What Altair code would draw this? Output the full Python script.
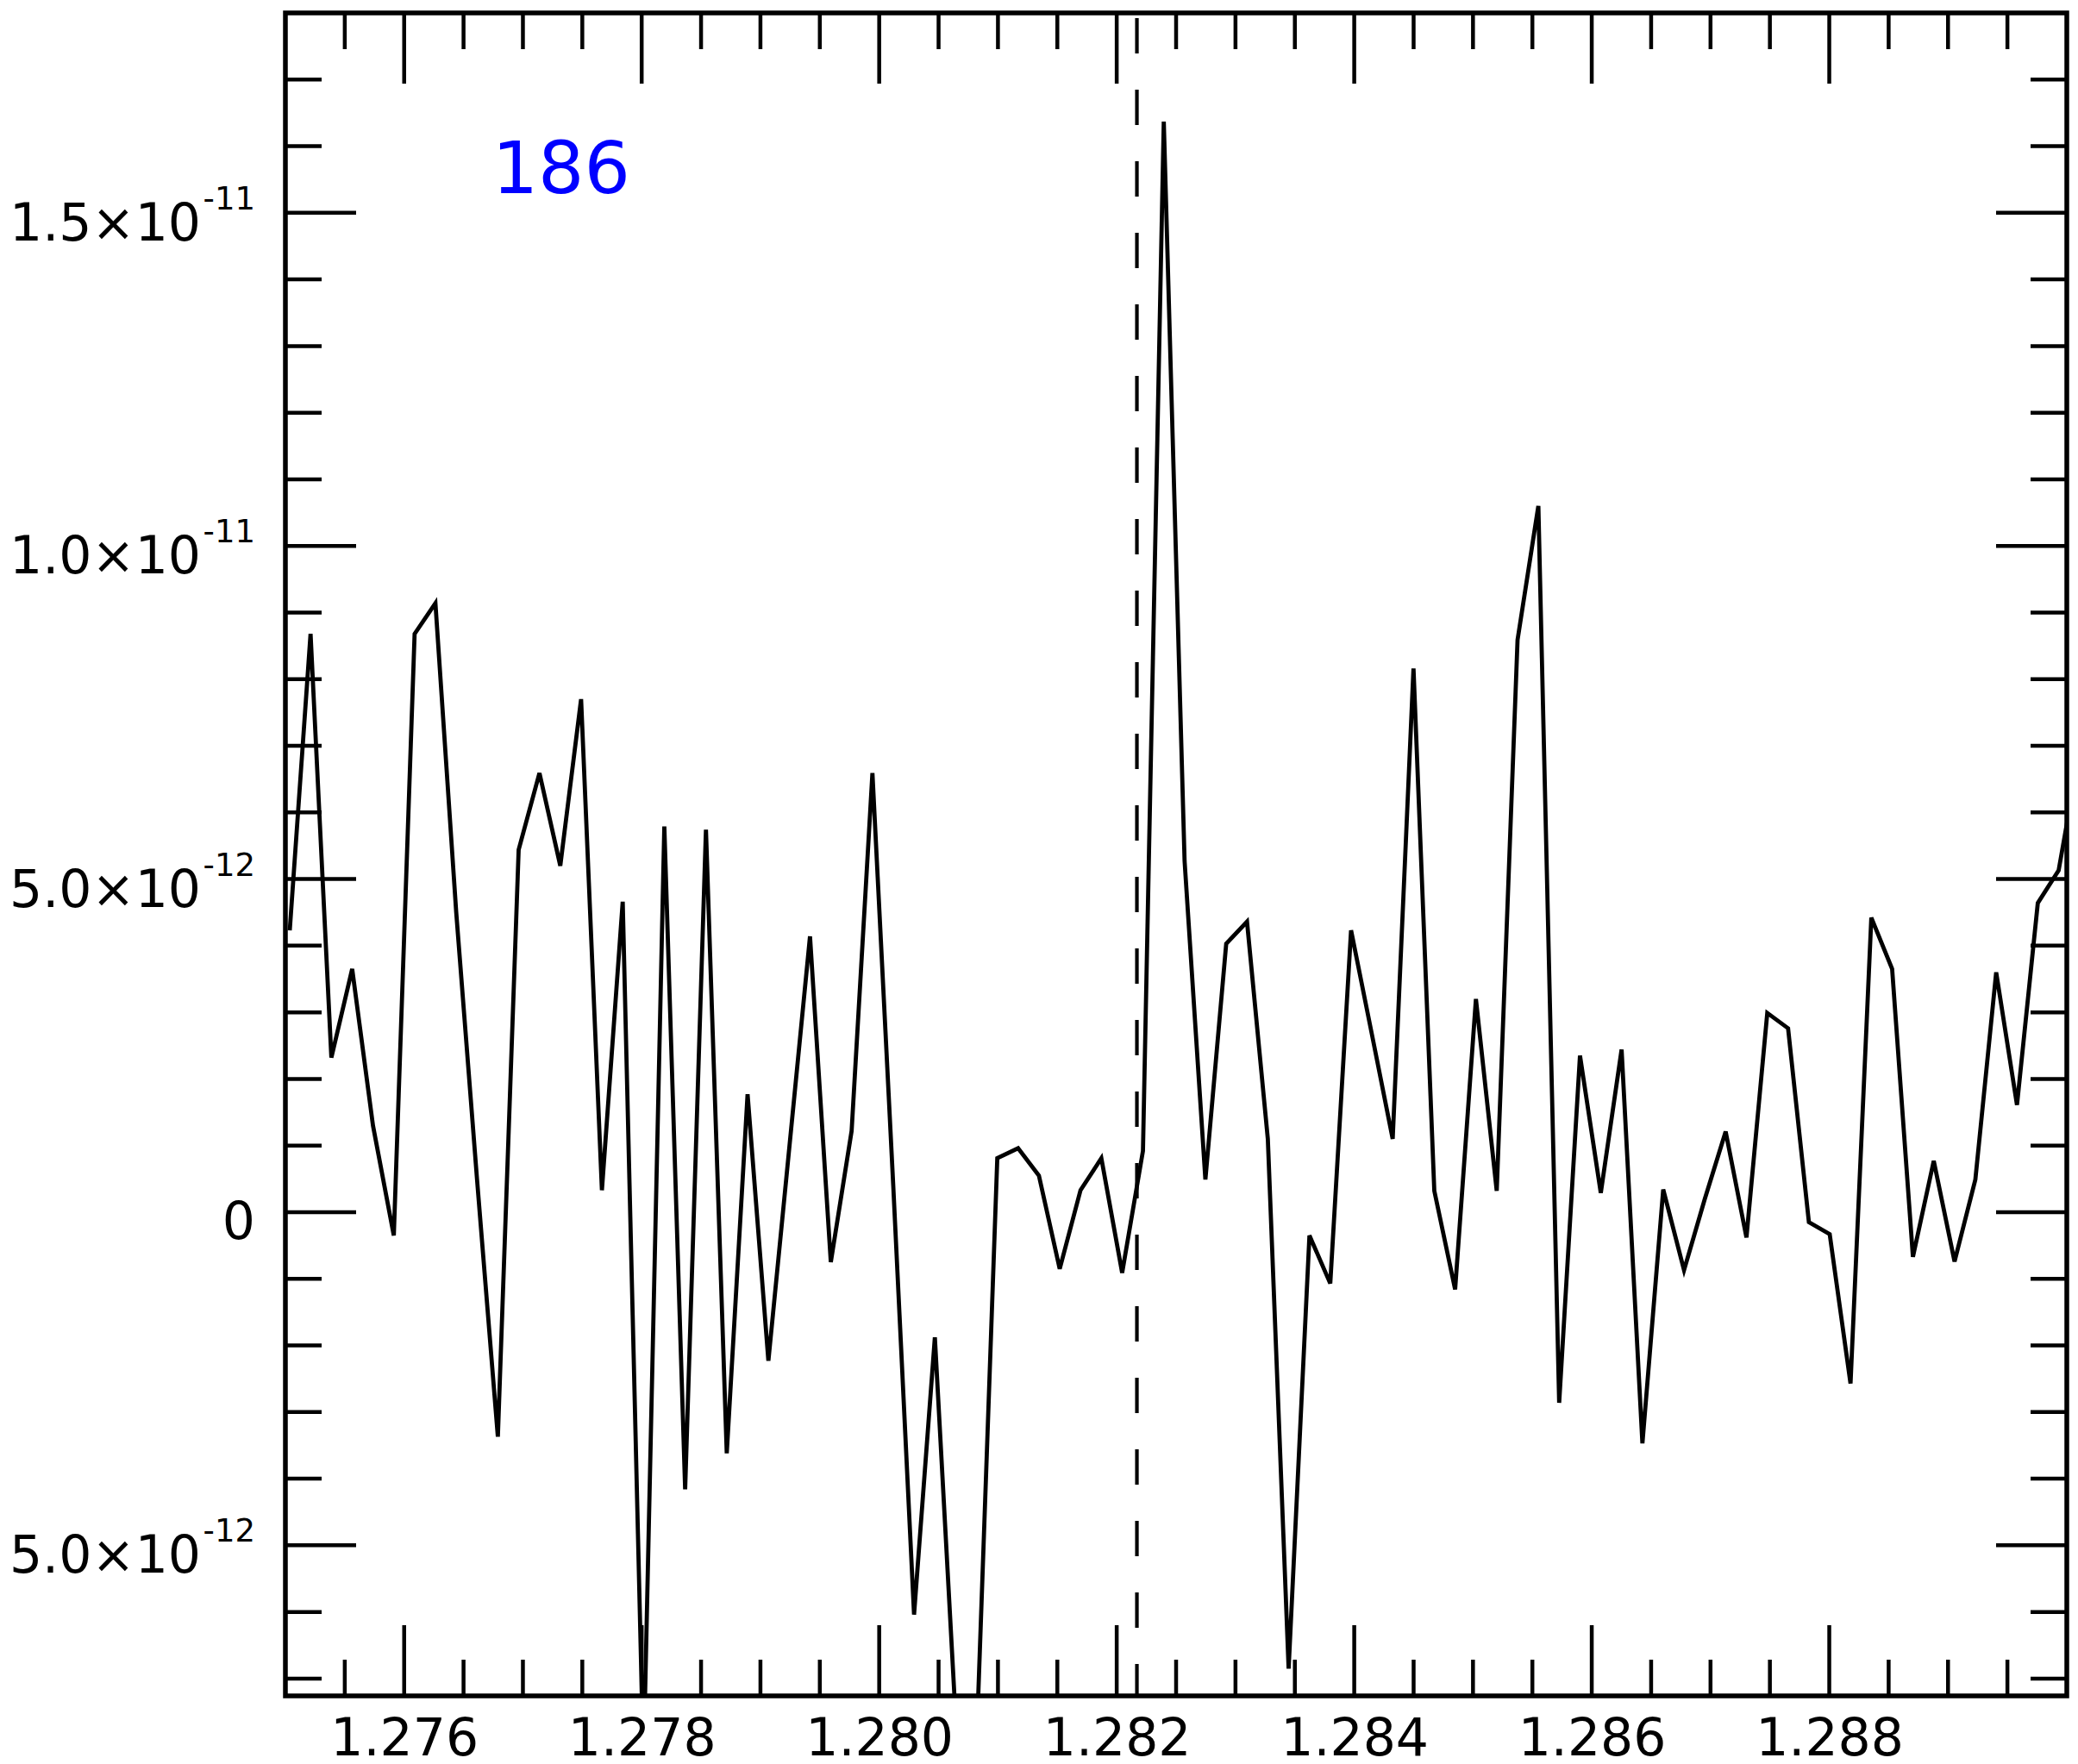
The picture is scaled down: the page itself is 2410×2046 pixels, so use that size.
import altair as alt
import pandas as pd

# ---- data ----
wave = [1.2750366, 1.2752118, 1.2753871, 1.2755623, 1.2757375, 1.2759128, 1.2760880, 1.2762632,
        1.2764384, 1.2766137, 1.2767889, 1.2769641, 1.2771394, 1.2773146, 1.2774898, 1.2776651,
        1.2778403, 1.2780155, 1.2781907, 1.2783660, 1.2785412, 1.2787164, 1.2788917, 1.2790669,
        1.2792421, 1.2794174, 1.2795926, 1.2797678, 1.2799430, 1.2801183, 1.2802935, 1.2804687,
        1.2806440, 1.2808192, 1.2809944, 1.2811697, 1.2813449, 1.2815201, 1.2816953, 1.2818706,
        1.2820458, 1.2822210, 1.2823963, 1.2825715, 1.2827467, 1.2829220, 1.2830972, 1.2832724,
        1.2834476, 1.2836229, 1.2837981, 1.2839733, 1.2841486, 1.2843238, 1.2844990, 1.2846743,
        1.2848495, 1.2850247, 1.2851999, 1.2853752, 1.2855504, 1.2857256, 1.2859009, 1.2860761,
        1.2862513, 1.2864266, 1.2866018, 1.2867770, 1.2869522, 1.2871275, 1.2873027, 1.2874779,
        1.2876532, 1.2878284, 1.2880036, 1.2881789, 1.2883541, 1.2885293, 1.2887045, 1.2888798,
        1.2890550, 1.2892302, 1.2894055, 1.2895807, 1.2897559, 1.2899312, 1.2901064]

flux = [4.23e-12, 8.68e-12, 2.32e-12, 3.65e-12, 1.30e-12, -0.35e-12, 8.68e-12, 9.14e-12, 4.50e-12, 0.49e-12,
        -3.37e-12, 5.44e-12, 6.59e-12, 5.20e-12, 7.70e-12, 0.33e-12, 4.66e-12, -8.30e-12, 5.79e-12, -4.16e-12,
        5.74e-12, -3.62e-12, 1.77e-12, -2.23e-12, 0.95e-12, 4.14e-12, -0.75e-12, 1.22e-12, 6.59e-12, 0.40e-12,
        -6.04e-12, -1.88e-12, -7.60e-12, -8.00e-12, 0.81e-12, 0.96e-12, 0.55e-12, -0.85e-12, 0.33e-12, 0.81e-12,
        -0.91e-12, 0.92e-12, 16.37e-12, 5.27e-12, 0.49e-12, 4.03e-12, 4.36e-12, 1.10e-12, -6.85e-12, -0.35e-12,
        -1.07e-12, 4.23e-12, 2.67e-12, 1.10e-12, 8.16e-12, 0.32e-12, -1.16e-12, 3.20e-12, 0.32e-12, 8.59e-12,
        10.60e-12, -2.86e-12, 2.35e-12, 0.29e-12, 2.44e-12, -3.47e-12, 0.34e-12, -0.87e-12, 0.20e-12, 1.21e-12,
        -0.38e-12, 2.99e-12, 2.76e-12, -0.15e-12, -0.33e-12, -2.57e-12, 4.42e-12, 3.65e-12, -0.67e-12, 0.77e-12,
        -0.74e-12, 0.49e-12, 3.60e-12, 1.61e-12, 4.64e-12, 5.13e-12, 6.90e-12]

line_center = [1.28217]

label_text = ["186"]
label_x = [1.27674]
label_y = [15.3e-12]

x_major = [1.276, 1.278, 1.280, 1.282, 1.284, 1.286, 1.288]
x_minor = [1.2755, 1.2765, 1.2770, 1.2775, 1.2785, 1.2790, 1.2795, 1.2805, 1.2810, 1.2815,
           1.2825, 1.2830, 1.2835, 1.2845, 1.2850, 1.2855, 1.2865, 1.2870, 1.2875, 1.2885,
           1.2890, 1.2895]
y_major = [-5e-12, 0.0, 5e-12, 1e-11, 1.5e-11]
y_mant = ["-5.0×10", "0", "5.0×10", "1.0×10", "1.5×10"]
y_exp = ["-12", "", "-12", "-11", "-11"]
y_minor = [-7e-12, -6e-12, -4e-12, -3e-12, -2e-12, -1e-12, 1e-12, 2e-12, 3e-12, 4e-12,
           6e-12, 7e-12, 8e-12, 9e-12, 1.1e-11, 1.2e-11, 1.3e-11, 1.4e-11, 1.6e-11, 1.7e-11]

# ---- layout / style ----
W, H = 2066, 1952
MAJ, MIN = 82, 42
FONT = "DejaVu Sans"
TW = 4.5

xs = alt.Scale(domain=[1.275, 1.290], nice=False, zero=False)
ys = alt.Scale(domain=[-7.26e-12, 1.8e-11], nice=False, zero=False)

df = pd.DataFrame({"wave": wave, "flux": flux})

xaxis = alt.Axis(values=x_major, format=".3f", ticks=False, domain=False, grid=False,
                 labelFontSize=60, labelFont=FONT, labelColor="black", labelPadding=21,
                 title=None, labelFlush=False, labelOverlap=False, orient="bottom")


def X(field):
    return alt.X(field, scale=xs, axis=xaxis)


def Y(field):
    return alt.Y(field, scale=ys, axis=None)


line = alt.Chart(df).mark_line(color="black", strokeWidth=4.8, clip=True).encode(
    x=X("wave:Q"), y=Y("flux:Q"),
)

dash = alt.Chart(pd.DataFrame({"wave": line_center})).mark_rule(
    color="black", strokeWidth=4.2, strokeDash=[41, 42], strokeDashOffset=77
).encode(x=X("wave:Q"))


def xticks(vals, length, top):
    d = pd.DataFrame({"t": vals})
    if top:
        yy, yy2 = alt.value(0), alt.value(length)
    else:
        yy, yy2 = alt.value(H - length), alt.value(H)
    return alt.Chart(d).mark_rule(color="black", strokeWidth=TW).encode(
        x=X("t:Q"), y=yy, y2=yy2)


def yticks(vals, length, left):
    d = pd.DataFrame({"t": vals})
    if left:
        xx, xx2 = alt.value(0), alt.value(length)
    else:
        xx, xx2 = alt.value(W - length), alt.value(W)
    return alt.Chart(d).mark_rule(color="black", strokeWidth=TW).encode(
        y=Y("t:Q"), x=xx, x2=xx2)


ticks = [
    xticks(x_major, MAJ, True), xticks(x_major, MAJ, False),
    xticks(x_minor, MIN, True), xticks(x_minor, MIN, False),
    yticks(y_major, MAJ, True), yticks(y_major, MAJ, False),
    yticks(y_minor, MIN, True), yticks(y_minor, MIN, False),
]

df_yl = pd.DataFrame({"v": y_major, "mant": y_mant, "exp": y_exp})

mant = alt.Chart(df_yl).transform_filter("datum.exp != ''").mark_text(
    align="right", baseline="alphabetic", dy=32, fontSize=60, font=FONT, color="black"
).encode(x=alt.value(-98), y=Y("v:Q"), text="mant:N")

zero = alt.Chart(df_yl).transform_filter("datum.exp == ''").mark_text(
    align="right", baseline="alphabetic", dy=31, fontSize=60, font=FONT, color="black"
).encode(x=alt.value(-35), y=Y("v:Q"), text="mant:N")

expo = alt.Chart(df_yl).transform_filter("datum.exp != ''").mark_text(
    align="right", baseline="alphabetic", dy=-4, fontSize=37, font=FONT, color="black"
).encode(x=alt.value(-35), y=Y("v:Q"), text="exp:N")

lab = alt.Chart(pd.DataFrame({"x": label_x, "y": label_y, "t": label_text})).mark_text(
    align="left", baseline="alphabetic", fontSize=84, font=FONT, color="#0000ff"
).encode(x=X("x:Q"), y=Y("y:Q"), text="t:N")

chart = alt.layer(line, dash, *ticks, mant, zero, expo, lab).properties(
    width=W, height=H,
    padding={"left": 323, "top": 7, "right": 5, "bottom": 70},
    autosize=alt.AutoSizeParams(type="none"),
    background="white",
).configure_view(stroke="black", strokeWidth=5.5)

chart.save("out.html", embed_options={"renderer": "svg", "actions": False})
